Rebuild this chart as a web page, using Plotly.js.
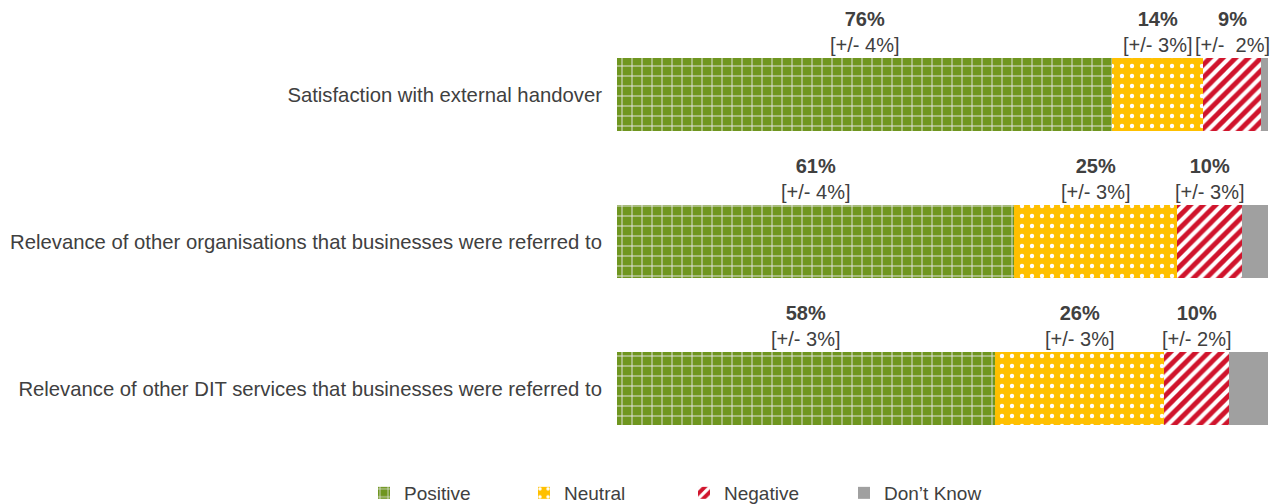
<!DOCTYPE html>
<html>
<head>
<meta charset="utf-8">
<script src="https://cdn.plot.ly/plotly-3.0.1.min.js"></script>
<style>html,body{margin:0;padding:0;background:#fff;}#chart{width:1274px;height:504px;}</style>
</head>
<body>
<div id="chart"></div>
<script>
const categories = [
  "Satisfaction with external handover",
  "Relevance of other organisations that businesses were referred to",
  "Relevance of other DIT services that businesses were referred to"
];
const positive = [76, 61, 58];
const neutral = [14, 25, 26];
const negative = [9, 10, 10];
const dontKnow = [1, 4, 6];
const positiveMoe = ["[+/- 4%]", "[+/- 4%]", "[+/- 3%]"];
const neutralMoe = ["[+/- 3%]", "[+/- 3%]", "[+/- 3%]"];
const negativeMoe = ["[+/-\u00a0 2%]", "[+/- 3%]", "[+/- 2%]"];

const GREEN = "#6f961f", YELLOW = "#ffc000", RED = "#d0142c", GREY = "#a0a0a0", TEXT = "#404040";
const FONT = "Liberation Sans, Arial, sans-serif";

function tr(name, vals, color, pattern) {
  return {
    type: "bar", orientation: "h", name: name, x: vals, y: categories,
    marker: { color: color, line: { width: 0 }, pattern: pattern },
    hoverinfo: "x+name"
  };
}
const traces = [
  tr("Positive", positive, GREEN, { shape: "+", fgcolor: "#e6e6e6", bgcolor: GREEN, size: 10, solidity: 0.18, fillmode: "replace" }),
  tr("Neutral", neutral, YELLOW, { shape: ".", fgcolor: "#ffffff", bgcolor: YELLOW, size: 10, solidity: 0.15, fillmode: "replace" }),
  tr("Negative", negative, RED, { shape: "/", fgcolor: "#ffffff", bgcolor: RED, size: 9, solidity: 0.45, fillmode: "replace" }),
  tr("Don\u2019t Know", dontKnow, GREY, { shape: "" })
];

const annotations = [];
const series = [[positive, positiveMoe], [neutral, neutralMoe], [negative, negativeMoe]];
categories.forEach((c, i) => {
  let start = 0;
  series.forEach(([vals, moe]) => {
    const mid = start + vals[i] / 2;
    annotations.push({ x: mid, y: c, xref: "x", yref: "y",
      text: "<b>" + vals[i] + "%</b><br>" + moe[i], showarrow: false,
      yshift: 62.5, yanchor: "middle", align: "center",
      font: { family: FONT, size: 20, color: TEXT } });
    start += vals[i];
  });
});

const layout = {
  width: 1274, height: 504,
  margin: { l: 617, r: 6, t: 21, b: 42, autoexpand: false },
  paper_bgcolor: "#ffffff", plot_bgcolor: "#ffffff",
  barmode: "stack", bargap: 0.503,
  font: { family: FONT, size: 20, color: TEXT },
  xaxis: { range: [0, 100], visible: false, fixedrange: true },
  yaxis: { range: [2.5, -0.5], showgrid: false, zeroline: false, showline: false,
    ticks: "outside", ticklen: 10, tickcolor: "rgba(0,0,0,0)", automargin: false,
    tickfont: { size: 20.3, color: TEXT } },
  showlegend: true,
  legend: { orientation: "h", xref: "container", x: 364 / 1274, xanchor: "left", yref: "container", y: 11 / 504, yanchor: "middle",
    entrywidth: 115, entrywidthmode: "pixels", traceorder: "normal",
    font: { size: 19, color: TEXT } },
  annotations: annotations
};
Plotly.newPlot("chart", traces, layout, { displayModeBar: false, staticPlot: true });
</script>
</body>
</html>
